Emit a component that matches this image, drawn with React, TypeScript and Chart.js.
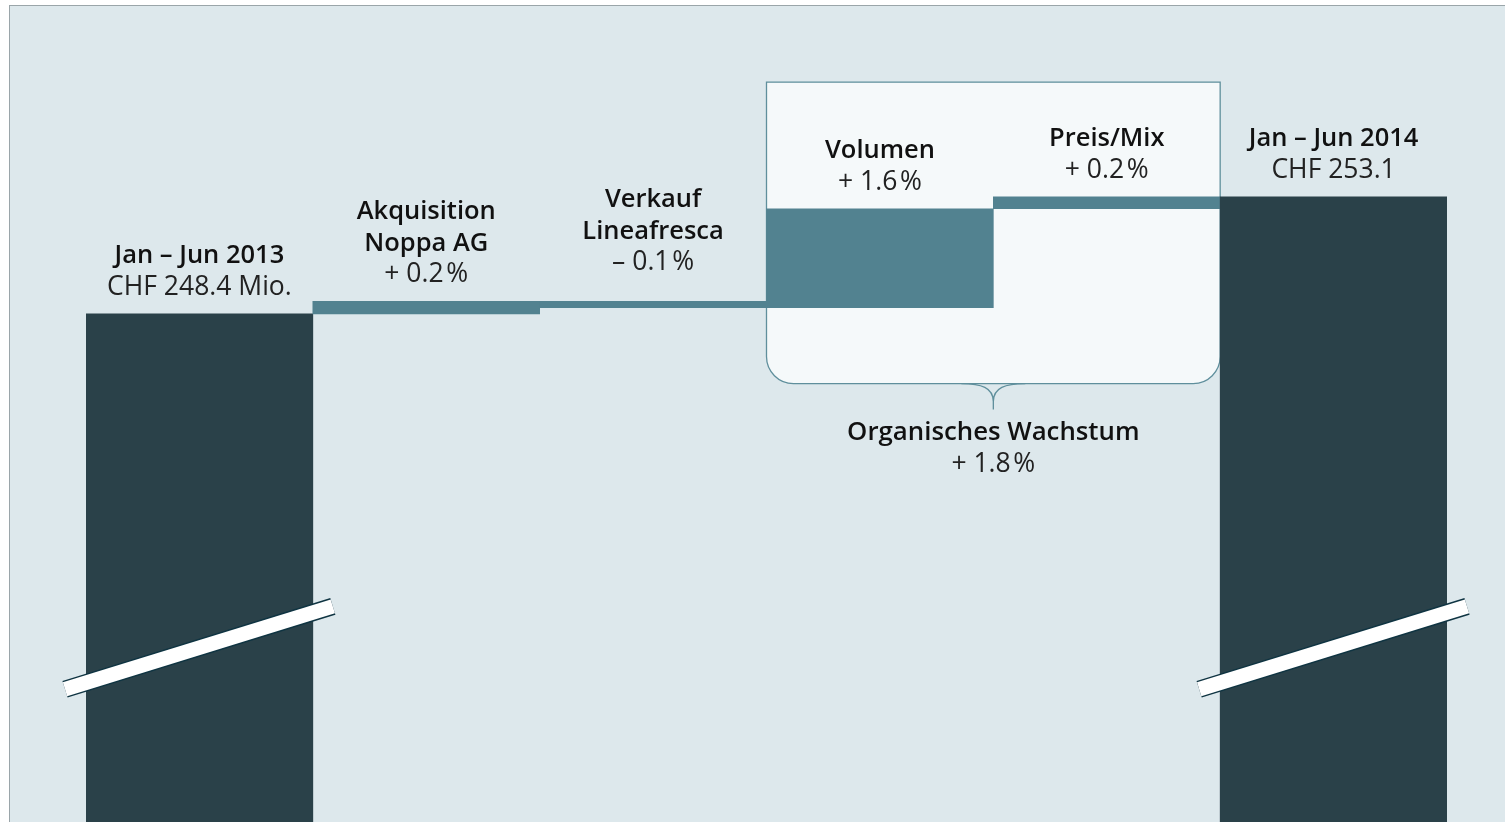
import React, { useEffect, useRef } from "react";
import { Chart, registerables } from "chart.js";
Chart.register(...registerables);

const categories = [
  "Jan – Jun 2013",
  "Akquisition Noppa AG",
  "Verkauf Lineafresca",
  "Volumen",
  "Preis/Mix",
  "Jan – Jun 2014",
];
const startValue = 248.4;
const changes = [0.5, -0.25, 3.97, 0.48];
const endValue = 253.1;

const titleLines = [
  ["Jan – Jun 2013"],
  ["Akquisition", "Noppa AG"],
  ["Verkauf", "Lineafresca"],
  ["Volumen"],
  ["Preis/Mix"],
  ["Jan – Jun 2014"],
];
const valueLines = [
  "CHF 248.4 Mio.",
  "+ 0.2\u200a%",
  "– 0.1\u200a%",
  "+ 1.6\u200a%",
  "+ 0.2\u200a%",
  "CHF 253.1",
];
const groupTitle = "Organisches Wachstum";
const groupValue = "+ 1.8\u200a%";

const axisMin = 228;
const axisMax = 261;
const breakValue = 235;
const bracketTop = 257.7;
const bracketBottom = 245.6;

const DARK = "#2a4149";
const TEAL = "#528290";
const FONT = "'Open Sans', Lato, sans-serif";

function buildBars(): [number, number][] {
  const bars: [number, number][] = [[axisMin, startValue]];
  let running = startValue;
  for (const c of changes) {
    const next = running + c;
    bars.push([Math.min(running, next), Math.max(running, next)]);
    running = next;
  }
  bars.push([axisMin, endValue]);
  return bars;
}

const decorPlugin = {
  id: "decor",
  beforeDatasetsDraw(chart: any) {
    const ctx = chart.ctx;
    const meta = chart.getDatasetMeta(0);
    const y = chart.scales.y;
    const b3 = meta.data[3];
    const b4 = meta.data[4];
    const L = b3.x - b3.width / 2;
    const R = b4.x + b4.width / 2;
    const T = y.getPixelForValue(bracketTop);
    const B = y.getPixelForValue(bracketBottom);
    const r = 27;
    ctx.save();
    ctx.beginPath();
    ctx.moveTo(L, T);
    ctx.lineTo(R, T);
    ctx.lineTo(R, B - r);
    ctx.arcTo(R, B, R - r, B, r);
    ctx.lineTo(L + r, B);
    ctx.arcTo(L, B, L, B - r, r);
    ctx.closePath();
    ctx.fillStyle = "#f5f9fa";
    ctx.fill();
    ctx.strokeStyle = "#5f8f9c";
    ctx.lineWidth = 1.3;
    ctx.stroke();
    const tip = (L + R) / 2;
    ctx.beginPath();
    ctx.moveTo(tip - 32, B);
    ctx.bezierCurveTo(tip - 12, B, tip, B + 4, tip, B + 18);
    ctx.lineTo(tip, B + 26);
    ctx.moveTo(tip + 32, B);
    ctx.bezierCurveTo(tip + 12, B, tip, B + 4, tip, B + 18);
    ctx.stroke();
    ctx.restore();
  },
  afterDatasetsDraw(chart: any) {
    const ctx = chart.ctx;
    const meta = chart.getDatasetMeta(0);
    const y = chart.scales.y;
    const bars = buildBars();
    ctx.save();
    // axis break marks
    for (const i of [0, meta.data.length - 1]) {
      const el = meta.data[i];
      const xc = el.x;
      const x0 = xc - el.width / 2 - 21;
      const x1 = xc + el.width / 2 + 20;
      const yc = y.getPixelForValue(breakValue);
      const slope = -83 / 268;
      ctx.lineCap = "butt";
      ctx.beginPath();
      ctx.moveTo(x0, yc + (x0 - xc) * slope);
      ctx.lineTo(x1, yc + (x1 - xc) * slope);
      ctx.strokeStyle = "#0f3442";
      ctx.lineWidth = 17.5;
      ctx.stroke();
      ctx.strokeStyle = "#ffffff";
      ctx.lineWidth = 14.5;
      ctx.stroke();
    }
    // labels
    ctx.textAlign = "center";
    ctx.textBaseline = "alphabetic";
    const lh = 31.5;
    meta.data.forEach((el: any, i: number) => {
      const top = y.getPixelForValue(bars[i][1]);
      const lift = i === 2 ? 31 : 19;
      let base = top - lift;
      ctx.fillStyle = "#222";
      ctx.font = `400 26.5px ${FONT}`;
      ctx.fillText(valueLines[i], el.x, base);
      const tl = titleLines[i];
      ctx.fillStyle = "#111";
      ctx.font = `600 25.5px ${FONT}`;
      for (let k = tl.length - 1; k >= 0; k--) {
        base -= lh;
        ctx.fillText(tl[k], el.x, base);
      }
    });
    const b3 = meta.data[3];
    const b4 = meta.data[4];
    const gx = (b3.x - b3.width / 2 + b4.x + b4.width / 2) / 2;
    const gB = y.getPixelForValue(bracketBottom);
    ctx.fillStyle = "#111";
    ctx.font = `600 25.8px ${FONT}`;
    ctx.fillText(groupTitle, gx, gB + 56);
    ctx.fillStyle = "#222";
    ctx.font = `400 26.5px ${FONT}`;
    ctx.fillText(groupValue, gx, gB + 88);
    ctx.restore();
  },
};

export default function App() {
  const ref = useRef<HTMLCanvasElement | null>(null);
  useEffect(() => {
    if (!ref.current) return;
    const bars = buildBars();
    const colors = bars.map((_, i) => (i === 0 || i === bars.length - 1 ? DARK : TEAL));
    const chart = new Chart(ref.current, {
      type: "bar",
      data: {
        labels: categories,
        datasets: [
          {
            data: bars as any,
            backgroundColor: colors,
            borderWidth: 0,
            barPercentage: 1,
            categoryPercentage: 1,
          },
        ],
      },
      options: {
        animation: false,
        responsive: false,
        devicePixelRatio: 1,
        layout: { padding: { left: 86, right: 58, top: 0, bottom: 0 } },
        plugins: { legend: { display: false }, tooltip: { enabled: false } },
        scales: {
          x: { type: "category", display: false, offset: true },
          y: { display: false, min: axisMin, max: axisMax },
        },
      },
      plugins: [decorPlugin],
    });
    return () => chart.destroy();
  }, []);
  return (
    <div style={{ position: "fixed", left: 0, top: 0, width: 1505, height: 822, background: "#fff", overflow: "hidden" }}>
      <div
        style={{
          position: "absolute",
          left: 9,
          top: 5,
          width: 1505,
          height: 822,
          background: "#dde8ec",
          borderLeft: "1.5px solid #9aa5a9",
          borderTop: "1.5px solid #9aa5a9",
        }}
      />
      <canvas ref={ref} width={1505} height={822} style={{ position: "absolute", left: 0, top: 0, display: "block" }} />
    </div>
  );
}
